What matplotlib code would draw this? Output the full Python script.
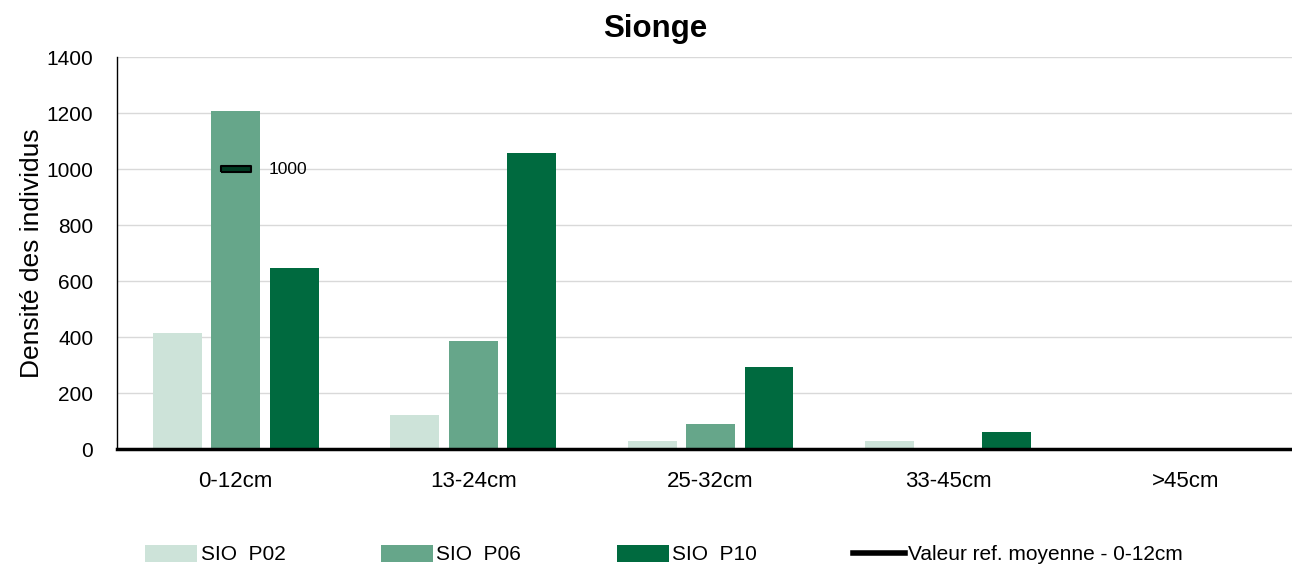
import matplotlib.pyplot as plt
import numpy as np
from matplotlib.lines import Line2D

plt.rcParams['font.family'] = ['Liberation Sans', 'DejaVu Sans']

categories = ['0-12cm', '13-24cm', '25-32cm', '33-45cm', '>45cm']
series_names = ['SIO  P02', 'SIO  P06', 'SIO  P10']
p02 = [414, 121, 29, 29, 0]
p06 = [1207, 386, 89, 0, 0]
p10 = [646, 1057, 293, 61, 0]
ref_value = 1000
ref_label = 'Valeur ref. moyenne - 0-12cm'
colors = ['#cde3d9', '#66a68a', '#006a3f']

fig = plt.figure(figsize=(12.92, 5.67), dpi=100)
ax = fig.add_axes([0.0905, 0.208, 0.919, 0.691])

x = np.arange(len(categories))
offsets = [-0.246, 0, 0.246]
for vals, off, col, name in zip([p02, p06, p10], offsets, colors, series_names):
    ax.bar(x + off, vals, width=0.206, color=col, label=name, zorder=2)

# reference value marker on the 0-12cm group
rect = [(-3, -0.6), (3, -0.6), (3, 0.6), (-3, 0.6), (-3, -0.6)]
ax.plot([x[0]], [ref_value], linestyle='none', marker=rect, markersize=22,
        markerfacecolor='#003b22', markeredgecolor='black', markeredgewidth=1.5, zorder=3)
ax.annotate(str(ref_value), (x[0] + 0.14, ref_value), ha='left', va='center', fontsize=12.5)

ax.set_xlim(-0.5, len(categories) - 0.5)
ax.set_ylim(0, 1400)
ax.set_yticks(np.arange(0, 1401, 200))
ax.set_xticks(x)
ax.set_xticklabels(categories, fontsize=16)
ax.tick_params(axis='y', labelsize=15, length=0, pad=17)
ax.tick_params(axis='x', length=0, pad=16)
ax.yaxis.grid(True, color='#d9d9d9', linewidth=1, zorder=0)
ax.set_axisbelow(True)
for s in ['top', 'right']:
    ax.spines[s].set_visible(False)
ax.spines['left'].set_linewidth(1)
ax.spines['bottom'].set_linewidth(2.5)
ax.set_ylabel('Densité des individus', fontsize=19, labelpad=2)

fig.suptitle('Sionge', x=0.507, y=0.975, fontsize=22.5, fontweight='bold')

handles, labels = ax.get_legend_handles_labels()
handles.append(Line2D([0], [0], color='black', linewidth=4))
labels.append(ref_label)
fig.legend(handles, labels, loc='center', bbox_to_anchor=(0.514, 0.022), ncol=4,
           frameon=False, fontsize=15, handlelength=2.5, handleheight=0.9,
           handletextpad=0.15, columnspacing=4.6)

fig.savefig('out.png', dpi=100)
